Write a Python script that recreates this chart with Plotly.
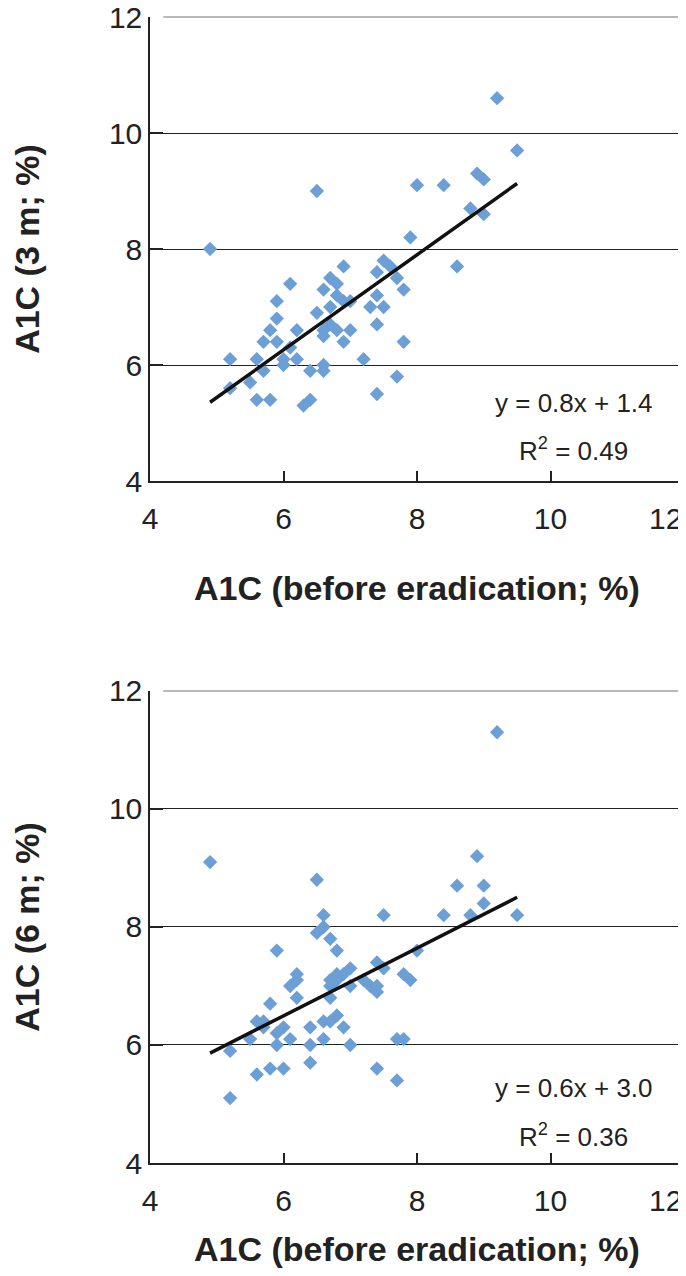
import numpy as np
import plotly.graph_objects as go
from plotly.subplots import make_subplots

# A1C before eradication vs A1C at 3 months
x_3m = [4.9, 7.9, 8.6, 7.5, 7.6, 7.4, 7.7, 7.8, 7.4, 7.5, 7.3, 7.4, 7.8, 7.2, 7.7, 7.4,
        6.9, 6.7, 6.8, 6.6, 6.8, 6.9, 7.0, 6.7, 6.5, 6.7, 6.6, 6.8, 7.0, 6.6, 6.9,
        6.1, 5.9, 5.9, 5.8, 6.2, 5.7, 5.9, 6.1, 5.2, 5.6, 6.0, 6.2, 6.0, 5.7, 6.4,
        6.6, 6.6, 5.5, 5.2, 5.6, 5.8, 6.3, 6.4,
        9.2, 9.5, 8.9, 9.0, 8.0, 8.4, 6.5, 8.8, 9.0]
y_3m = [8.0, 8.2, 7.7, 7.8, 7.7, 7.6, 7.5, 7.3, 7.2, 7.0, 7.0, 6.7, 6.4, 6.1, 5.8, 5.5,
        7.7, 7.5, 7.4, 7.3, 7.2, 7.1, 7.1, 7.0, 6.9, 6.7, 6.6, 6.6, 6.6, 6.5, 6.4,
        7.4, 7.1, 6.8, 6.6, 6.6, 6.4, 6.4, 6.3, 6.1, 6.1, 6.1, 6.1, 6.0, 5.9, 5.9,
        6.0, 5.9, 5.7, 5.6, 5.4, 5.4, 5.3, 5.4,
        10.6, 9.7, 9.3, 9.2, 9.1, 9.1, 9.0, 8.7, 8.6]

# A1C before eradication vs A1C at 6 months
x_6m = [9.2, 4.9, 6.5, 8.9, 8.6, 9.0, 9.0, 6.6, 7.5, 8.4, 8.8, 9.5,
        6.6, 6.5, 6.7, 6.8, 5.9, 8.0, 7.4, 7.5, 7.0, 6.9, 6.8, 6.7, 6.8,
        6.2, 6.2, 6.1, 6.7, 7.0, 7.2, 7.3, 7.4, 7.4, 7.8, 7.9,
        6.2, 6.7, 5.8, 5.6, 5.7, 5.7, 6.0, 5.9, 6.4, 6.6, 6.7, 6.8, 6.9,
        5.5, 6.1, 6.6, 7.7, 7.8, 5.9, 6.4, 7.0, 5.2, 6.4, 5.8, 6.0, 5.6,
        7.4, 7.7, 5.2]
y_6m = [11.3, 9.1, 8.8, 9.2, 8.7, 8.7, 8.4, 8.2, 8.2, 8.2, 8.2, 8.2,
        8.0, 7.9, 7.8, 7.6, 7.6, 7.6, 7.4, 7.3, 7.3, 7.2, 7.2, 7.1, 7.1,
        7.2, 7.1, 7.0, 7.0, 7.0, 7.1, 7.0, 7.0, 6.9, 7.2, 7.1,
        6.8, 6.8, 6.7, 6.4, 6.4, 6.3, 6.3, 6.2, 6.3, 6.4, 6.4, 6.5, 6.3,
        6.1, 6.1, 6.1, 6.1, 6.1, 6.0, 6.0, 6.0, 5.9, 5.7, 5.6, 5.6, 5.5,
        5.6, 5.4, 5.1]

# trendline coefficients as drawn in the figure
trend_slope = [0.82, 0.574]
trend_intercept = [1.34, 3.05]
eq_labels = ["y = 0.8x + 1.4", "y = 0.6x + 3.0"]
r2_labels = ["R<sup>2</sup> = 0.49", "R<sup>2</sup> = 0.36"]
y_titles = ["A1C (3 m; %)", "A1C (6 m; %)"]
x_title = "A1C (before eradication; %)"
tick_vals = [4, 6, 8, 10, 12]
tick_labels = ["4", "6", "8", "10", "12"]

FONT = "Liberation Sans, Arial, sans-serif"
DARK = "#222222"
BLUE = "#6b9fd6"
top_dom = [0.5951, 1.0]
bot_dom = [0.0, 0.4119]

fig = make_subplots(rows=2, cols=1)

for i, (xs, ys) in enumerate([(x_3m, y_3m), (x_6m, y_6m)]):
    row = i + 1
    fig.add_trace(go.Scatter(x=xs, y=ys, mode="markers",
                             marker=dict(symbol="diamond", size=11, color=BLUE),
                             showlegend=False), row=row, col=1)
    lx = np.array([min(xs), max(xs)])
    fig.add_trace(go.Scatter(x=lx, y=trend_slope[i] * lx + trend_intercept[i],
                             mode="lines", line=dict(color="#111111", width=3.5),
                             showlegend=False), row=row, col=1)

axis_common = dict(range=[4, 12], showline=True, linecolor=DARK, linewidth=1.5,
                   ticks="inside", tickcolor=DARK, tickwidth=1.5,
                   tickfont=dict(family=FONT, size=30, color=DARK),
                   ticklabeloverflow="allow",
                   automargin=False, zeroline=False)

# the last x label ("12") sits flush inside the right edge in the original,
# so it is drawn as a right-anchored annotation instead of a centred tick label
fig.update_xaxes(**axis_common, tickvals=tick_vals,
                 ticktext=tick_labels[:-1] + [""], ticklen=10,
                 showgrid=False, ticklabelstandoff=10)
fig.update_yaxes(**axis_common, tickvals=tick_vals, ticktext=tick_labels,
                 ticklen=13, showgrid=True, gridcolor=DARK, gridwidth=1.4)

title_font = dict(family=FONT, size=34, color=DARK)
fig.update_layout(
    xaxis=dict(title=dict(text="<b>" + x_title + "</b>", standoff=42, font=title_font)),
    xaxis2=dict(title=dict(text="<b>" + x_title + "</b>", standoff=34, font=title_font)),
    yaxis=dict(domain=top_dom,
               title=dict(text="<b>" + y_titles[0] + "</b>", standoff=76, font=title_font)),
    yaxis2=dict(domain=bot_dom,
                title=dict(text="<b>" + y_titles[1] + "</b>", standoff=76, font=title_font)),
)

# light grey top and right frame lines, as in the original
for dom in [top_dom, bot_dom]:
    fig.add_shape(type="line", xref="paper", yref="paper",
                  x0=0.025, x1=1, y0=dom[1], y1=dom[1], layer="above",
                  line=dict(color="#a0a0a0", width=1.6))
    fig.add_shape(type="line", xref="paper", yref="paper",
                  x0=1, x1=1, y0=dom[0], y1=dom[1], layer="above",
                  line=dict(color="#a0a0a0", width=1.6))

for i, (xr, yr) in enumerate([("x", "y"), ("x2", "y2")]):
    fig.add_annotation(x=tick_vals[-1], y=0, xref=xr, yref=yr + " domain",
                       text=tick_labels[-1], showarrow=False,
                       xanchor="right", yanchor="middle", yshift=-37,
                       font=dict(family=FONT, size=30, color=DARK))
    ys = [5.35, 4.55] if i == 0 else [5.27, 4.47]
    for txt, yy in zip([eq_labels[i], r2_labels[i]], ys):
        fig.add_annotation(x=10.35, y=yy, xref=xr, yref=yr, text=txt, showarrow=False,
                           font=dict(family=FONT, size=26, color=DARK))

fig.update_layout(
    template="none",
    width=678, height=1260,
    margin=dict(l=142, r=2, t=9, b=105),
    paper_bgcolor="white", plot_bgcolor="white",
    font=dict(family=FONT, color=DARK),
)

fig.write_html("out.html")
